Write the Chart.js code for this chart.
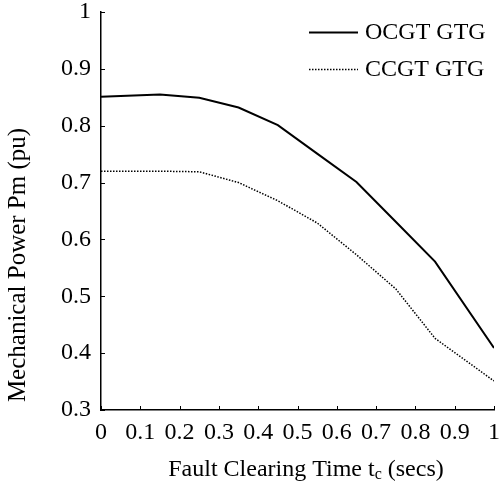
<!DOCTYPE html>
<html>
<head>
<meta charset="utf-8">
<script src="https://cdn.jsdelivr.net/npm/chart.js@4/dist/chart.umd.min.js"></script>
<style>
  html, body { margin: 0; padding: 0; background: #fff; }
  #wrap { width: 502px; height: 487px; }
</style>
</head>
<body>
<div id="wrap"><canvas id="pm"></canvas></div>
<script>
// fault clearing time (secs) and mechanical power (pu)
const clearTimes = [0, 0.15, 0.25, 0.35, 0.45, 0.55, 0.65, 0.75, 0.85, 1.0]
const ocgtPower = [0.851, 0.855, 0.849, 0.832, 0.801, 0.751, 0.701, 0.631, 0.561, 0.409]
const ccgtPower = [0.72, 0.72, 0.719, 0.70, 0.668, 0.629, 0.573, 0.513, 0.426, 0.351]
const seriesNames = ['OCGT GTG', 'CCGT GTG']
const xTickValues = [0, 0.1, 0.2, 0.3, 0.4, 0.5, 0.6, 0.7, 0.8, 0.9, 1]
const yTickValues = [0.3, 0.4, 0.5, 0.6, 0.7, 0.8, 0.9, 1]

const serif = "'Liberation Serif', 'Times New Roman', serif"

function toPoints(ys) {
    return clearTimes.map((t, i) => ({ x: t, y: ys[i] }))
}

function tickText(v) {
    return String(+v.toFixed(1))
}

// small ticks pointing into the plot
const innerTicks = {
    id: 'innerTicks',
    afterDatasetsDraw(chart) {
        const ctx = chart.ctx
        const xs = chart.scales.x, ys = chart.scales.y
        ctx.save()
        ctx.strokeStyle = '#000'
        ctx.lineWidth = 1
        ctx.beginPath()
        xTickValues.forEach(v => {
            const px = Math.round(xs.getPixelForValue(v)) + 0.5
            ctx.moveTo(px, ys.bottom)
            ctx.lineTo(px, ys.bottom - 4)
        })
        yTickValues.forEach(v => {
            const py = Math.round(ys.getPixelForValue(v)) + 0.5
            ctx.moveTo(xs.left, py)
            ctx.lineTo(xs.left + 4, py)
        })
        ctx.stroke()
        ctx.restore()
    }
}

// legend in the top right corner and the axis titles
const labels = {
    id: 'labels',
    afterDraw(chart) {
        const ctx = chart.ctx
        ctx.save()
        ctx.fillStyle = '#000'
        ctx.textBaseline = 'middle'
        ctx.font = '24px ' + serif

        const rows = [32, 69]
        chart.data.datasets.forEach((ds, i) => {
            const y = rows[i] + 0.5
            ctx.strokeStyle = ds.borderColor
            ctx.lineWidth = ds.borderWidth
            ctx.setLineDash(ds.borderDash || [])
            ctx.beginPath()
            ctx.moveTo(309, y)
            ctx.lineTo(358, y)
            ctx.stroke()
            ctx.setLineDash([])
            ctx.textAlign = 'left'
            ctx.fillText(ds.label, 365, rows[i] + 1)
        })

        // x title with subscript c
        const big = '24px ' + serif, small = '16px ' + serif
        const a = 'Fault Clearing Time t', b = 'c', c = ' (secs)'
        ctx.font = big
        const wa = ctx.measureText(a).width, wc = ctx.measureText(c).width
        ctx.font = small
        const wb = ctx.measureText(b).width
        let x = 306 - (wa + wb + wc) / 2
        const ty = 470
        ctx.textAlign = 'left'
        ctx.font = big
        ctx.fillText(a, x, ty)
        x += wa
        ctx.font = small
        ctx.fillText(b, x, ty + 5)
        x += wb
        ctx.font = big
        ctx.fillText(c, x, ty)

        // y title
        ctx.translate(18, 265)
        ctx.rotate(-Math.PI / 2)
        ctx.textAlign = 'center'
        ctx.font = '25px ' + serif
        ctx.fillText('Mechanical Power Pm (pu)', 0, 0)
        ctx.restore()
    }
}

new Chart(document.getElementById('pm'), {
    type: 'line',
    data: {
        datasets: [
            {
                label: seriesNames[0],
                data: toPoints(ocgtPower),
                borderColor: '#000',
                borderWidth: 2,
                pointRadius: 0,
                tension: 0
            },
            {
                label: seriesNames[1],
                data: toPoints(ccgtPower),
                borderColor: '#000',
                borderWidth: 1.5,
                borderDash: [1.5, 1.5],
                pointRadius: 0,
                tension: 0
            }
        ]
    },
    options: {
        responsive: true,
        maintainAspectRatio: false,
        animation: false,
        layout: { padding: { left: 60, right: 8, top: 12, bottom: 41 } },
        plugins: {
            legend: { display: false },
            tooltip: { enabled: false }
        },
        scales: {
            x: {
                type: 'linear',
                min: 0,
                max: 1,
                afterBuildTicks: s => { s.ticks = xTickValues.map(v => ({ value: v })) },
                afterFit: s => {
                    s.height = 36
                    s.paddingLeft = 0
                    s.paddingRight = 0
                },
                grid: { display: false, drawTicks: false },
                border: { display: true, color: '#000', width: 1.5 },
                ticks: {
                    color: '#000',
                    padding: 8,
                    maxRotation: 0,
                    autoSkip: false,
                    callback: tickText,
                    font: { family: serif, size: 24 }
                }
            },
            y: {
                min: 0.3,
                max: 1,
                afterBuildTicks: s => { s.ticks = yTickValues.map(v => ({ value: v })) },
                afterFit: s => {
                    s.width = 41
                    s.paddingTop = 0
                    s.paddingBottom = 0
                },
                grid: { display: false, drawTicks: false },
                border: { display: true, color: '#000', width: 1.5 },
                ticks: {
                    color: '#000',
                    padding: 10,
                    callback: tickText,
                    font: { family: serif, size: 24 }
                }
            }
        }
    },
    plugins: [innerTicks, labels]
})
</script>
</body>
</html>
